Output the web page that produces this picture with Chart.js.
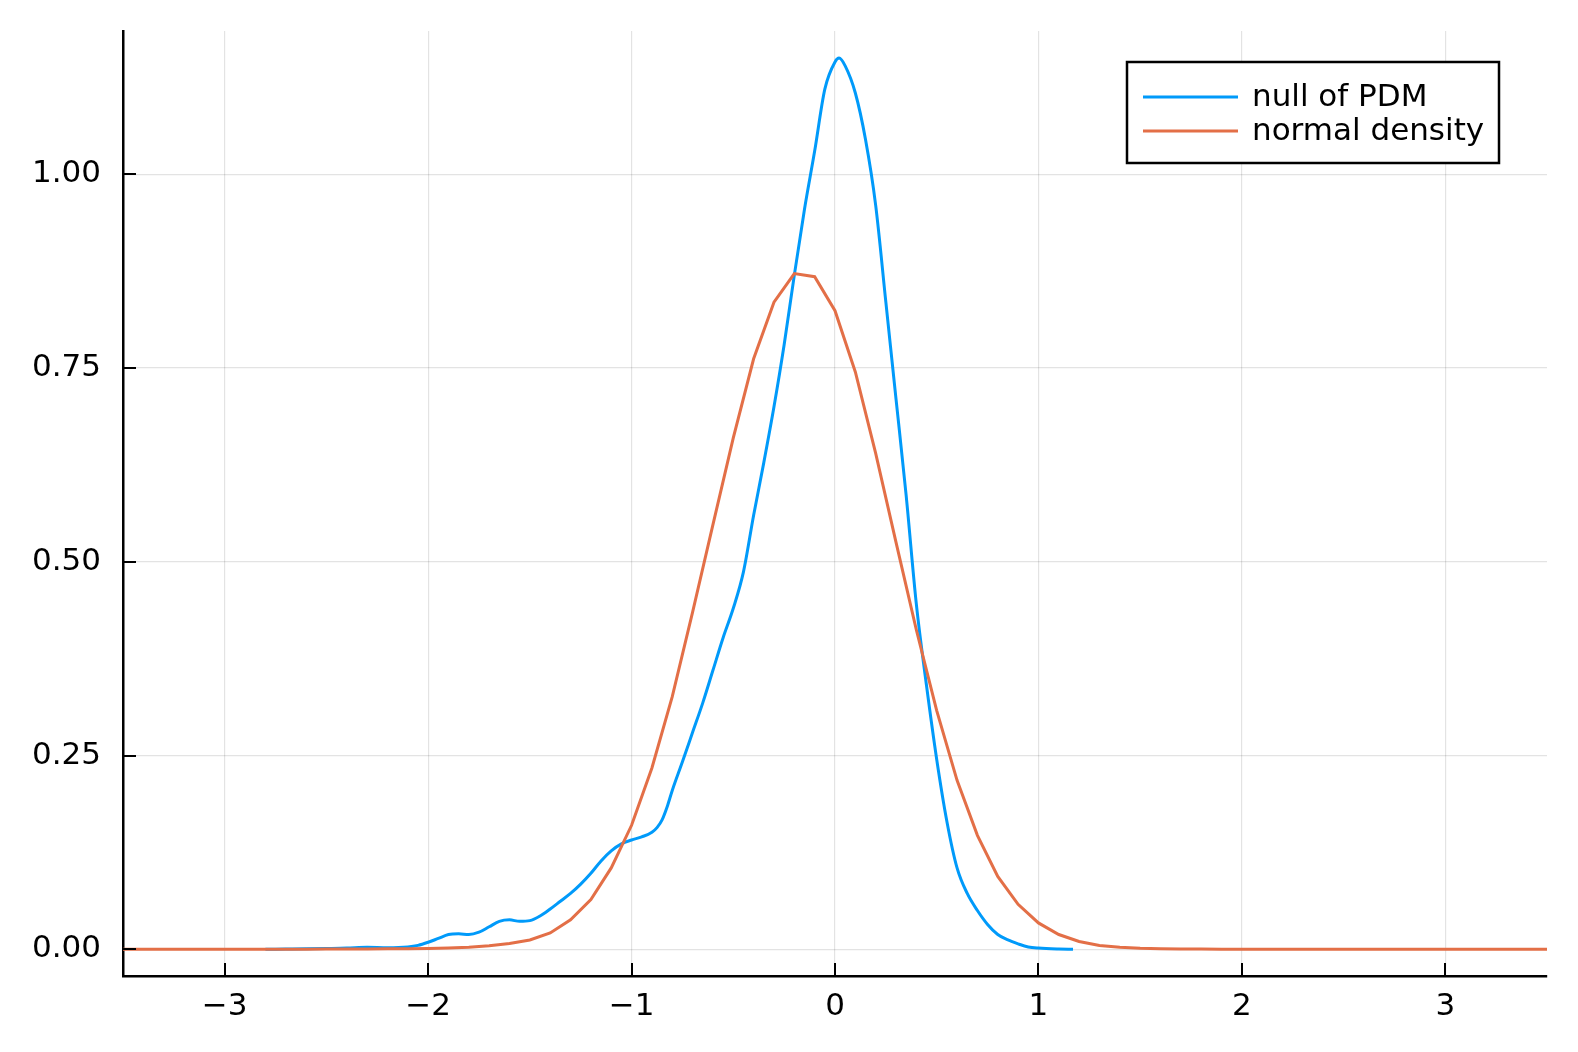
<!DOCTYPE html>
<html>
<head>
<meta charset="utf-8">
<script src="https://cdn.jsdelivr.net/npm/chart.js@4.4.1/dist/chart.umd.min.js"></script>
<style>
  html, body { margin: 0; padding: 0; background: #fff; }
  #wrap { width: 1578px; height: 1052px; }
</style>
</head>
<body>
<div id="wrap"><canvas id="myChart" width="1578" height="1052"></canvas></div>
<script>
// kernel density of the null distribution
const nullX = [-2.8, -2.7, -2.6, -2.5, -2.4, -2.3, -2.2, -2.1, -2.05, -2.0, -1.95, -1.9, -1.85, -1.8, -1.75, -1.7, -1.65, -1.6, -1.55, -1.5,
  -1.45, -1.4, -1.35, -1.3, -1.25, -1.2, -1.15, -1.1, -1.05, -1.0, -0.95, -0.9, -0.875, -0.85, -0.825, -0.8, -0.75, -0.7, -0.65, -0.6, -0.55, -0.5,
  -0.45, -0.4, -0.35, -0.3, -0.25, -0.2, -0.15, -0.1, -0.05, 0.0, 0.02, 0.05, 0.1, 0.15, 0.2, 0.25, 0.3, 0.35, 0.4, 0.45, 0.5,
  0.55, 0.6, 0.65, 0.7, 0.75, 0.8, 0.85, 0.9, 0.95, 1.0, 1.1, 1.17];
const nullY = [0.0, 0.0003, 0.0006, 0.001, 0.0015, 0.0025, 0.002, 0.003, 0.005, 0.009, 0.014, 0.019, 0.020, 0.019, 0.022, 0.029, 0.036, 0.038, 0.036, 0.037,
  0.043, 0.052, 0.062, 0.072, 0.084, 0.098, 0.114, 0.127, 0.136, 0.141, 0.145, 0.151, 0.157, 0.167, 0.184, 0.205, 0.242, 0.280, 0.318, 0.360, 0.402, 0.440,
  0.487, 0.560, 0.628, 0.700, 0.780, 0.870, 0.955, 1.030, 1.110, 1.145, 1.150, 1.140, 1.105, 1.045, 0.960, 0.835, 0.710, 0.585, 0.445, 0.340, 0.245,
  0.165, 0.105, 0.072, 0.050, 0.032, 0.019, 0.012, 0.007, 0.003, 0.0015, 0.0003, 0.0];

// normal density on a 0.1 grid
const normX = [-3.5, -3.4, -3.3, -3.2, -3.1, -3.0, -2.9, -2.8, -2.7, -2.6, -2.5, -2.4, -2.3, -2.2, -2.1, -2.0, -1.9, -1.8, -1.7, -1.6, -1.5,
  -1.4, -1.3, -1.2, -1.1, -1.0, -0.9, -0.8, -0.7, -0.6, -0.5, -0.4, -0.3, -0.2, -0.1, 0.0, 0.1, 0.2, 0.3, 0.4, 0.5,
  0.6, 0.7, 0.8, 0.9, 1.0, 1.1, 1.2, 1.3, 1.4, 1.5, 1.6, 1.7, 1.8, 1.9, 2.0, 2.1, 2.2, 2.3, 2.4, 2.5,
  2.6, 2.7, 2.8, 2.9, 3.0, 3.1, 3.2, 3.3, 3.4, 3.5];
const normY = [0, 0, 0, 0, 0, 0, 0, 0, 0.0001, 0.0001, 0.0002, 0.0003, 0.0004, 0.0006, 0.0008, 0.0011, 0.0016, 0.0025, 0.0045, 0.0075, 0.012,
  0.021, 0.038, 0.064, 0.105, 0.160, 0.234, 0.326, 0.435, 0.548, 0.660, 0.762, 0.835, 0.872, 0.868, 0.824, 0.745, 0.640, 0.525, 0.412, 0.308,
  0.218, 0.147, 0.094, 0.058, 0.034, 0.019, 0.010, 0.005, 0.0027, 0.0014, 0.0007, 0.0004, 0.0002, 0.0001, 0, 0, 0, 0, 0, 0,
  0, 0, 0, 0, 0, 0, 0, 0, 0, 0];

const xTicks = [-3, -2, -1, 0, 1, 2, 3];
const yTicks = [0, 0.25, 0.5, 0.75, 1.0];
const seriesNames = ['null of PDM', 'normal density'];
const seriesColors = ['#009AFA', '#E36F47'];

const FONT = '"DejaVu Sans", sans-serif';
const toPts = (xs, ys) => xs.map((x, i) => ({ x: x, y: ys[i] }));

const whiteBg = {
  id: 'whiteBg',
  beforeDraw(chart) {
    const c = chart.ctx;
    c.save();
    c.fillStyle = '#fff';
    c.fillRect(0, 0, chart.width, chart.height);
    c.restore();
  }
};

// inward tick marks + boxed legend, like the Plots.jl look
const extras = {
  id: 'extras',
  afterDraw(chart) {
    const c = chart.ctx;
    const a = chart.chartArea;
    const xs = chart.scales.x, ys = chart.scales.y;
    c.save();
    c.strokeStyle = '#000';
    c.lineWidth = 2;
    c.beginPath();
    xTicks.forEach(v => {
      const px = Math.round(xs.getPixelForValue(v));
      c.moveTo(px, a.bottom);
      c.lineTo(px, a.bottom - 13);
    });
    yTicks.forEach(v => {
      const py = Math.round(ys.getPixelForValue(v));
      c.moveTo(a.left, py);
      c.lineTo(a.left + 13, py);
    });
    c.stroke();

    // legend
    const bx = 1127, by = 62, bw = 372, bh = 101;
    c.fillStyle = '#fff';
    c.fillRect(bx, by, bw, bh);
    c.lineWidth = 2.5;
    c.strokeRect(bx, by, bw, bh);
    c.font = '31px ' + FONT;
    c.textBaseline = 'middle';
    c.textAlign = 'left';
    chart.data.datasets.forEach((ds, i) => {
      const ly = 97 + i * 34;
      c.strokeStyle = ds.borderColor;
      c.lineWidth = 3;
      c.beginPath();
      c.moveTo(1143, ly);
      c.lineTo(1238, ly);
      c.stroke();
      c.fillStyle = '#000';
      c.fillText(ds.label, 1252, ly + 1);
    });
    c.restore();
  }
};

const myChart = new Chart('myChart', {
  type: 'line',
  data: {
    datasets: [{
      label: seriesNames[0],
      data: toPts(nullX, nullY),
      borderColor: seriesColors[0],
      borderWidth: 3,
      pointRadius: 0,
      fill: false,
      order: 1,
      cubicInterpolationMode: 'monotone'
    }, {
      label: seriesNames[1],
      data: toPts(normX, normY),
      borderColor: seriesColors[1],
      borderWidth: 3,
      pointRadius: 0,
      fill: false,
      order: 0,
      tension: 0
    }]
  },
  options: {
    responsive: false,
    animation: false,
    events: [],
    layout: { padding: { top: 31, right: 31, left: 0, bottom: 0 } },
    plugins: { legend: { display: false }, tooltip: { enabled: false } },
    scales: {
      x: {
        type: 'linear',
        min: -3.5,
        max: 3.5,
        afterBuildTicks: s => { s.ticks = xTicks.map(v => ({ value: v })); },
        afterFit: s => { s.height = 76; s.paddingLeft = 0; s.paddingRight = 0; },
        grid: { color: 'rgba(0,0,0,0.11)', lineWidth: 1.2, drawTicks: false },
        border: { display: true, color: '#000', width: 2.5 },
        ticks: {
          color: '#000',
          font: { family: FONT, size: 31 },
          padding: 12,
          maxRotation: 0,
          callback: v => (v < 0 ? '\u2212' + Math.abs(v) : String(v))
        }
      },
      y: {
        type: 'linear',
        min: -0.0345,
        max: 1.185,
        afterBuildTicks: s => { s.ticks = yTicks.map(v => ({ value: v })); },
        afterFit: s => { s.width = 123; s.paddingTop = 0; s.paddingBottom = 0; },
        grid: { color: 'rgba(0,0,0,0.11)', lineWidth: 1.2, drawTicks: false },
        border: { display: true, color: '#000', width: 2.5 },
        ticks: {
          color: '#000',
          font: { family: FONT, size: 31 },
          padding: 22,
          callback: v => Number(v).toFixed(2)
        }
      }
    }
  },
  plugins: [whiteBg, extras]
});
</script>
</body>
</html>
